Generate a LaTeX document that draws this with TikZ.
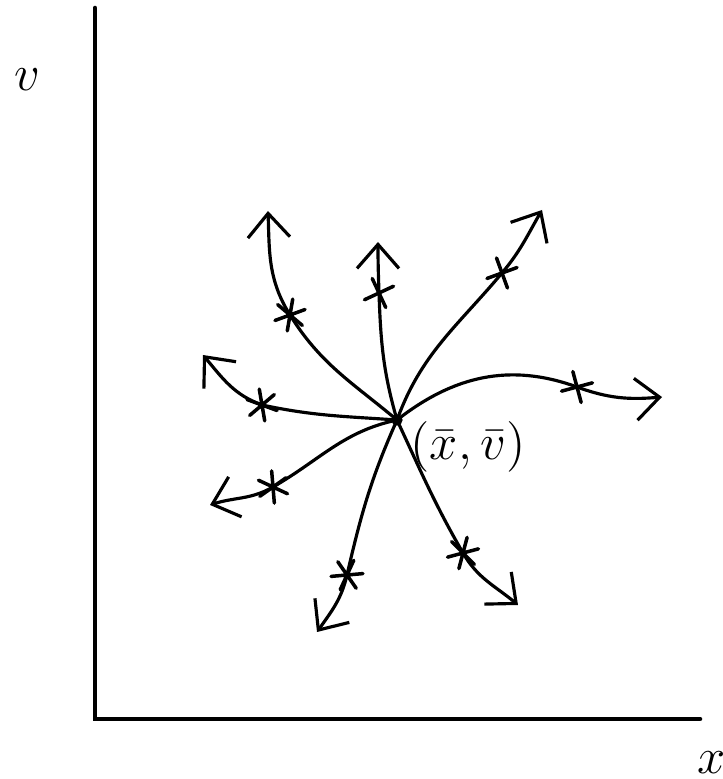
\documentclass[tikz,border=0pt]{standalone}
\usetikzlibrary{arrows.meta}

\begin{document}
\begin{tikzpicture}[x=1cm, y=1cm,
    eje/.style={line width=1.3pt, line cap=round},
    trayectoria/.style={line width=0.9pt, line cap=round,
        -{Straight Barb[length=2.4mm, width=4.2mm, line width=0.9pt]}},
    marca/.style={line width=1pt, line cap=round}]

    % #1 = punto, #2 = giro
    \newcommand{\aspa}[2]{%
        \begin{scope}[shift={(#1)}, rotate=#2]
            \draw[marca] (-0.16,0) -- (0.16,0) (0,-0.16) -- (0,0.16);
        \end{scope}}
    \newcommand{\estrella}[2]{%
        \begin{scope}[shift={(#1)}, rotate=#2]
            \draw[marca] (-0.16,0) -- (0.16,0)
                (-0.08,-0.14) -- (0.08,0.14) (-0.08,0.14) -- (0.08,-0.14);
        \end{scope}}

    \useasboundingbox (0,0) rectangle (7.23,7.79);

    % ejes
    \coordinate (O) at (0.95,0.60);
    \coordinate (arriba) at (0.95,7.71);
    \coordinate (derecha) at (7.00,0.60);
    \draw[eje] (arriba) -- (O) -- (derecha);
    \node (etv) at (0.27,6.99) {\Large $v$};
    \node (etx) at (7.12,0.16) {\Large $x$};

    % punto de equilibrio
    \coordinate (c) at (3.97,3.59);
    \fill (c) circle (1.6pt);
    \node (etc) at (4.68,3.32) {\Large $(\bar{x},\bar{v})$};

    % marcas y puntas
    \coordinate (m1) at (2.90,4.64); \coordinate (t1) at (2.68,5.68);
    \coordinate (m2) at (3.79,4.86); \coordinate (t2) at (3.78,5.37);
    \coordinate (m3) at (2.62,3.74); \coordinate (t3) at (2.03,4.24);
    \coordinate (m4) at (5.02,5.06); \coordinate (t4) at (5.42,5.69);
    \coordinate (m5) at (5.77,3.92); \coordinate (t5) at (6.62,3.82);
    \coordinate (m6) at (2.73,2.92); \coordinate (t6) at (2.10,2.74);
    \coordinate (m7) at (3.47,2.04); \coordinate (t7) at (3.17,1.47);
    \coordinate (m8) at (4.63,2.26); \coordinate (t8) at (5.18,1.74);

    \draw[trayectoria] (c) to[out=140, in=-58] (m1) to[out=122, in=-88] (t1);
    \draw[trayectoria] (c) to[out=106, in=-88] (m2) to[out=92, in=-90] (t2);
    \draw[trayectoria] (c) to[out=176, in=-12] (m3) to[out=160, in=-50] (t3);
    \draw[trayectoria] (c) to[out=70, in=230] (m4) to[out=50, in=240] (t4);
    \draw[trayectoria] (c) to[out=38, in=160] (m5) to[out=-20, in=185] (t5);
    \draw[trayectoria] (c) to[out=192, in=30] (m6) to[out=210, in=18] (t6);
    \draw[trayectoria] (c) to[out=246, in=77] (m7) to[out=257, in=55] (t7);
    \draw[trayectoria] (c) to[out=-65, in=120] (m8) to[out=-60, in=140] (t8);

    \estrella{m1}{20}
    \aspa{m2}{25}
    \estrella{m3}{-20}
    \aspa{m4}{20}
    \aspa{m5}{15}
    \estrella{m6}{-25}
    \estrella{m7}{5}
    \estrella{m8}{15}

\end{tikzpicture}
\end{document}
